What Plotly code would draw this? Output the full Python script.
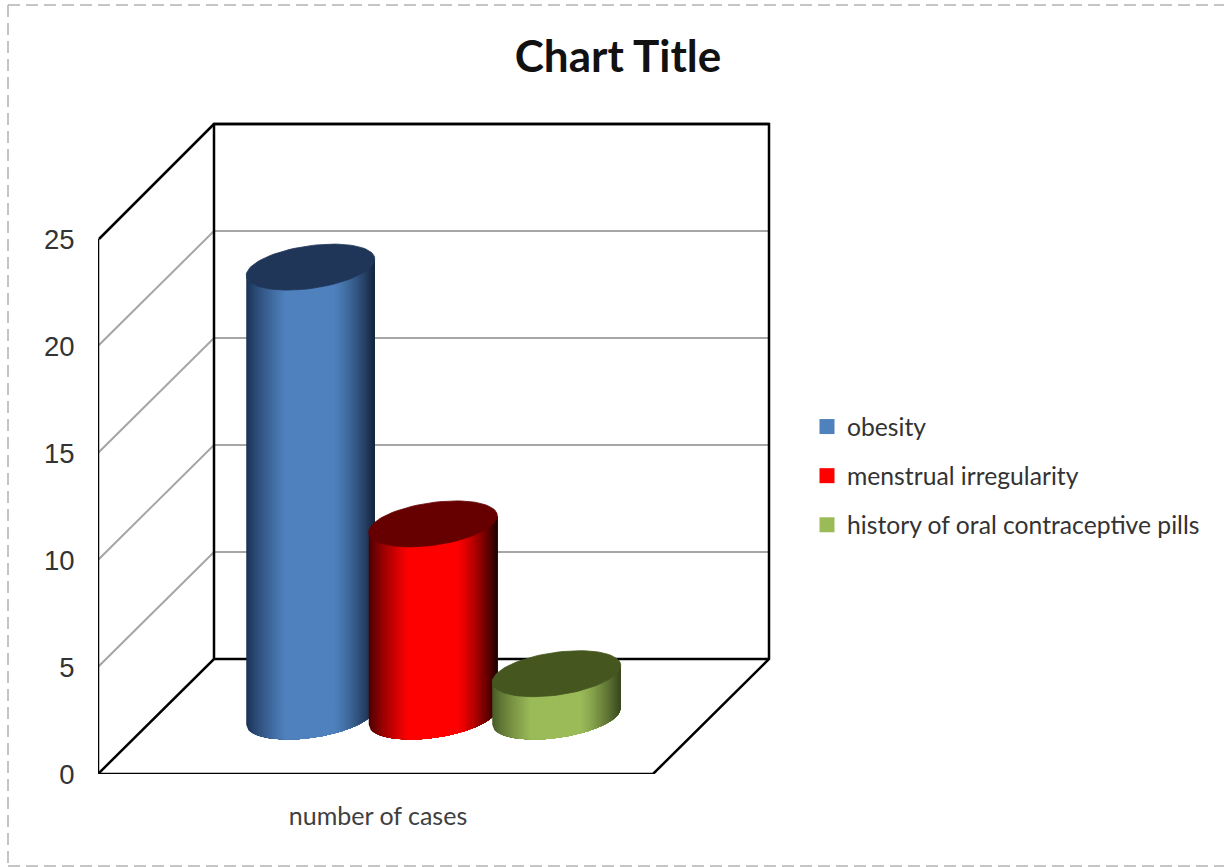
import numpy as np
import plotly.graph_objects as go

# ---- data ----
title_text = "Chart Title"
category = ["number of cases"]
series_names = ["obesity", "menstrual irregularity", "history of oral contraceptive pills"]
series_values = [21, 9, 2]
y_ticks = [0, 5, 10, 15, 20, 25]

# ---- style ----
side_edge_l = [(26, 48, 82), (70, 0, 0), (70, 88, 38)]
side_mid = [(79, 129, 189), (255, 0, 0), (155, 187, 89)]
side_edge_r = [(20, 36, 60), (30, 0, 0), (55, 70, 30)]
cap_colors = ["#1f3659", "#660000", "#45571f"]
legend_colors = ["#4f81bd", "#ff0000", "#9bbb59"]

W, H = 1224, 867
PX = 21.4                 # pixels per value unit
X0, X1 = 98, 653          # front floor edge
DX, DY = 116, 115         # oblique depth, pixels
SLOT = [252.5, 375, 498.5]  # cylinder centres on the front edge
R, D = 60.0, 23.0         # cap ellipse
y_top = (H - 94) / PX
yd = DY / PX
ymax = max(y_ticks)

fig = go.Figure()


def line(xs, ys, color, width):
    fig.add_trace(go.Scatter(x=xs, y=ys, mode="lines", line=dict(color=color, width=width),
                             hoverinfo="skip", showlegend=False, cliponaxis=False))


# gridlines
for v in y_ticks[1:-1]:
    line([X0, X0 + DX, X1 + DX], [v, v + yd, v + yd], "#a6a6a6", 2)
line([X0 + DX, X1 + DX], [ymax + yd, ymax + yd], "#000000", 2.5)
line([X0 + 1, X0 + DX], [ymax, ymax + yd], "#000000", 2.5)
# frame
line([X0, X0, X1, X1 + DX, X1 + DX, X0 + DX, X0 + DX],
     [ymax, 0, 0, yd, ymax + yd, ymax + yd, yd], "#000000", 2.5)
line([X0, X0 + DX, X1 + DX], [0, yd, yd], "#000000", 2.5)


def lower(dx):
    A = 1 / D**2 + 1 / R**2
    B = -2 * dx / R**2
    C = dx**2 / R**2 - 1
    return (-B - np.sqrt(np.maximum(B**2 - 4 * A * C, 0))) / (2 * A)


def shade(u, i):
    l, m, r = side_edge_l[i], side_mid[i], side_edge_r[i]
    if u < 0.3:
        t = (u / 0.3) ** 0.8
        c = [l[k] + (m[k] - l[k]) * t for k in range(3)]
    elif u < 0.68:
        c = m
    else:
        t = ((u - 0.68) / 0.32) ** 1.3
        c = [m[k] + (r[k] - m[k]) * t for k in range(3)]
    return "rgb(%d,%d,%d)" % tuple(c)


E = np.hypot(R, D)
N = 64
for i, v in enumerate(series_values):
    cx = SLOT[i] + DX / 2
    base = yd / 2
    edges = np.linspace(-E, E, N + 1)
    for j in range(N):
        # each strip reaches the right edge; the next one paints over it, so no seams show
        xs = np.linspace(edges[j], E, max(N - j + 1, 3))
        low = lower(xs) / PX
        px = np.r_[xs, xs[::-1]] + cx
        py = np.r_[base + v + low, base + low[::-1]]
        col = shade((j + 0.5) / N, i)
        fig.add_trace(go.Scatter(x=px, y=py, mode="lines", fill="toself", fillcolor=col,
                                 line=dict(color="rgba(0,0,0,0)", width=0), hoverinfo="skip",
                                 showlegend=False, cliponaxis=False))
    t = np.linspace(0, 2 * np.pi, 90)
    fig.add_trace(go.Scatter(x=cx + R * np.cos(t) + D * np.sin(t),
                             y=base + v + D * np.sin(t) / PX,
                             mode="lines", fill="toself", fillcolor=cap_colors[i],
                             line=dict(color=cap_colors[i], width=0.8), hoverinfo="skip",
                             showlegend=False, cliponaxis=False))

for i, name in enumerate(series_names):
    fig.add_trace(go.Scatter(x=[None], y=[None], mode="markers", name=name, legendgroup=name,
                             marker=dict(symbol="square", size=15, color=legend_colors[i])))

dash = "12px,6px"
fy = lambda p: (H - 94 - p) / (H - 94)
fx = lambda p: (p - X0) / (W - X0)
border = dict(color="#b3b3b3", width=1.5, dash=dash)
shapes = [
    dict(type="line", xref="paper", yref="paper", x0=fx(8), x1=1.0, y0=fy(5), y1=fy(5), line=border),
    dict(type="line", xref="paper", yref="paper", x0=fx(8), x1=1.0, y0=fy(865), y1=fy(865), line=border),
    dict(type="line", xref="paper", yref="paper", x0=fx(8), x1=fx(8), y0=fy(5), y1=fy(865), line=border),
]

fig.update_layout(
    width=W, height=H, margin=dict(l=X0, r=0, t=0, b=93, autoexpand=False),
    paper_bgcolor="white", plot_bgcolor="white", shapes=shapes,
    title=dict(text="<b>%s</b>" % title_text, x=618 / W, xanchor="center", y=1 - 57 / H, yanchor="middle",
               font=dict(family="Lato", size=44, color="#111111")),
    xaxis=dict(range=[X0, W], showgrid=False, zeroline=False, showline=False,
               tickmode="array", tickvals=[378], ticktext=category, ticks="outside", ticklen=20,
               tickcolor="rgba(0,0,0,0)", tickfont=dict(family="Lato", size=25, color="#404040")),
    yaxis=dict(range=[0, (H - 93) / PX], showgrid=False, zeroline=False, showline=False,
               tickmode="array", tickvals=y_ticks, ticks="outside", ticklen=17,
               tickcolor="rgba(0,0,0,0)", tickfont=dict(family="Liberation Sans", size=27.5, color="#333333")),
    legend=dict(x=807 / W, xref="container", y=1 - 404 / H, yref="container", xanchor="left", yanchor="top",
                tracegroupgap=14, font=dict(family="Lato", size=24.7, color="#333333"),
                bgcolor="rgba(0,0,0,0)", itemwidth=30),
    showlegend=True,
)
fig.write_html("out.html", config=dict(displayModeBar=False),
               post_script="document.body.style.margin='0';")
